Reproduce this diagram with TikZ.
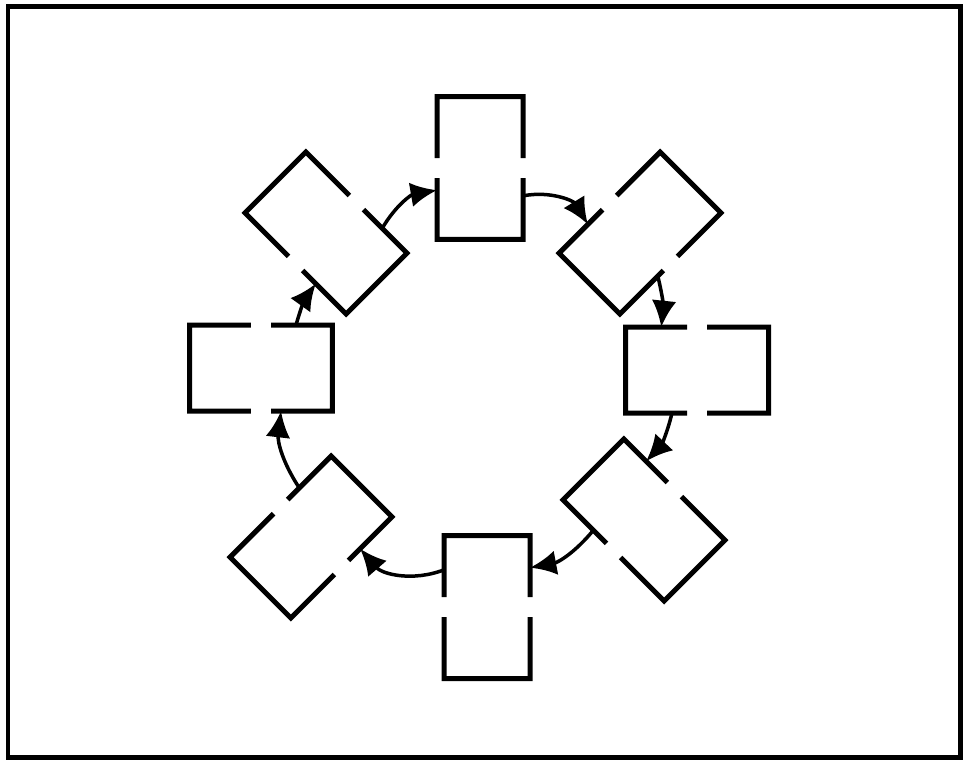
\documentclass[tikz,border=0pt]{standalone}
\usetikzlibrary{arrows.meta, calc}

\begin{document}
\begin{tikzpicture}[x=0.02cm, y=-0.02cm,
  slot/.style={rectangle, minimum width=2.86cm, minimum height=1.72cm, inner sep=0pt, outer sep=0pt},
  edge/.style={black, line width=0.1cm},
  flow/.style={black, line width=0.07cm, -{Latex[length=15pt, width=14pt]}}]

  \useasboundingbox (0,0) rectangle (969,762);

  % --- outer frame ---
  \draw[edge] (8,6) rectangle (960,757);

  % --- the eight boxes round the ring, long side pointing outward ---
  \node[slot, rotate=90] (top) at (480,168) {};
  \node[slot, rotate=45] (topR) at (640,233) {};
  \node[slot] (rgt) at (697,370) {};
  \node[slot, rotate=-45] (botR) at (644,520) {};
  \node[slot, rotate=90] (bot) at (487,607) {};
  \node[slot, rotate=45] (botL) at (311,537) {};
  \node[slot] (lft) at (261,368) {};
  \node[slot, rotate=-45] (topL) at (326,233) {};

  % outlines, each long side broken in the middle
  \foreach \b in {top,topR,rgt,botR,bot,botL,lft,topL} {
    \draw[edge] ($(\b.north west)!.43!(\b.north east)$) -- (\b.north west) -- (\b.south west) -- ($(\b.south west)!.43!(\b.south east)$);
    \draw[edge] ($(\b.north west)!.57!(\b.north east)$) -- (\b.north east) -- (\b.south east) -- ($(\b.south west)!.57!(\b.south east)$);
  }

  % --- clockwise arrows ---
  \draw[flow] ($(top.south)!.39!(top.south west)$) to[bend left=35] ($(topR.north)!.43!(topR.north west)$);
  \draw[flow] ($(topR.south)!.25!(topR.south west)$) to[bend left=10] ($(rgt.north)!.5!(rgt.north west)$);
  \draw[flow] ($(rgt.south)!.35!(rgt.south west)$) to[bend left=15] ($(botR.north)!.56!(botR.north west)$);
  \draw[flow] ($(botR.south)!.4!(botR.south west)$) to[bend left=20] ($(bot.south)!.55!(bot.south east)$);
  \draw[flow] ($(bot.north)!.52!(bot.north east)$) to[bend left=35] ($(botL.south)!.37!(botL.south east)$);
  \draw[flow] ($(botL.north)!.37!(botL.north east)$) to[bend left=20] ($(lft.south)!.28!(lft.south east)$);
  \draw[flow] ($(lft.north)!.49!(lft.north east)$) to[bend left=10] ($(topL.south)!.4!(topL.south east)$);
  \draw[flow] ($(topL.north)!.51!(topL.north east)$) to[bend left=25] ($(top.north)!.31!(top.north west)$);
\end{tikzpicture}
\end{document}
